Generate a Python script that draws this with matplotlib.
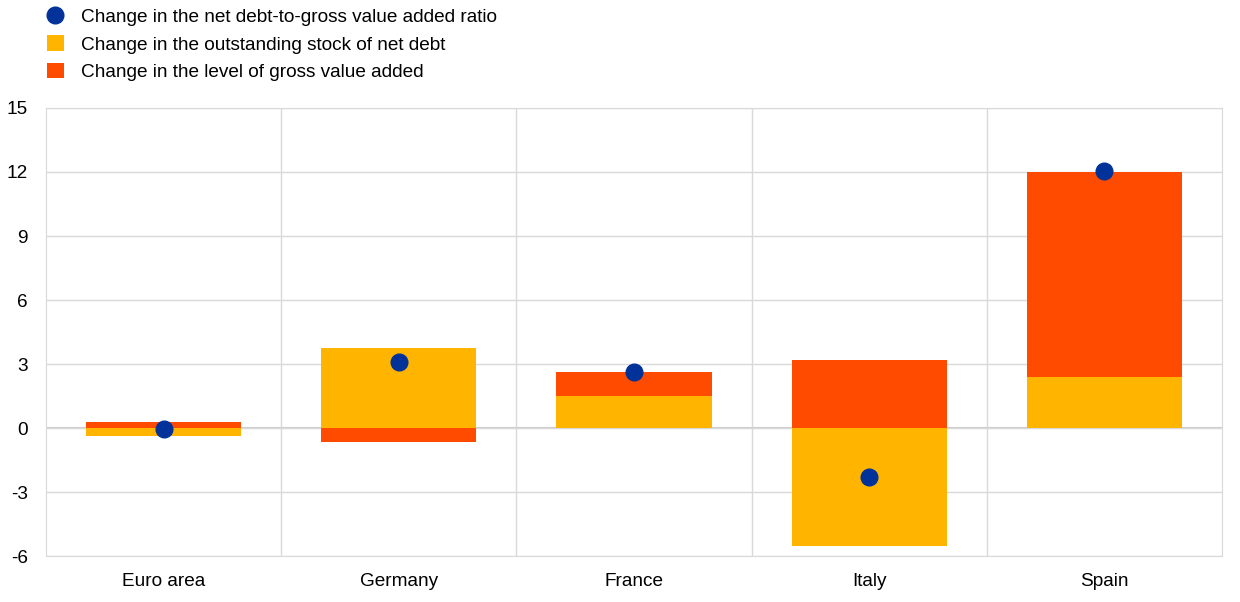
import matplotlib.pyplot as plt
import numpy as np

plt.rcParams['font.family'] = ['Liberation Sans', 'DejaVu Sans']
plt.rcParams['axes.unicode_minus'] = False

countries = ['Euro area', 'Germany', 'France', 'Italy', 'Spain']
net_debt = [-0.37, 3.75, 1.52, -5.53, 2.4]
gva = [0.3, -0.65, 1.12, 3.19, 9.62]
ratio = [-0.05, 3.1, 2.64, -2.3, 12.05]

blue = '#003299'
yellow = '#FFB400'
red = '#FF4B00'

fig = plt.figure(figsize=(12.4, 6.02), dpi=100)
ax = fig.add_axes([0.0371, 0.0764, 0.9484, 0.7442])

x = np.arange(len(countries))
nd = np.array(net_debt)
gv = np.array(gva)
# stack positives on positives, negatives on negatives
gva_bottom = np.where(np.sign(gv) == np.sign(nd), nd, 0)

ax.bar(x, nd, width=0.66, color=yellow, zorder=2, label='Change in the outstanding stock of net debt')
ax.bar(x, gv, bottom=gva_bottom, width=0.66, color=red, zorder=2, label='Change in the level of gross value added')
ax.plot(x, ratio, 'o', color=blue, markersize=12, zorder=3, label='Change in the net debt-to-gross value added ratio')

ax.set_xlim(-0.5, len(countries) - 0.5)
ax.set_ylim(-6, 15)
ax.set_yticks(range(-6, 16, 3))
ax.set_xticks(x)
ax.set_xticklabels(countries)
ax.tick_params(length=0, labelsize=13.7, colors='black')
ax.tick_params(axis='x', pad=12)
ax.tick_params(axis='y', pad=13)

ax.grid(axis='y', color='#d9d9d9', linewidth=1, zorder=0)
for b in np.arange(0.5, len(countries) - 1, 1):
    ax.axvline(b, color='#d9d9d9', linewidth=1, zorder=0)
ax.axhline(0, color='#cccccc', linewidth=1.5, zorder=1)
for s in ax.spines.values():
    s.set_color('#d9d9d9')

h, l = ax.get_legend_handles_labels()
fig.legend(h, l, loc='upper left',
           bbox_to_anchor=(0.024, 1.016), frameon=False, fontsize=13.7,
           handlelength=0.9, handleheight=0.9, labelspacing=0.48, handletextpad=0.9)

fig.savefig('out.png', dpi=100)
